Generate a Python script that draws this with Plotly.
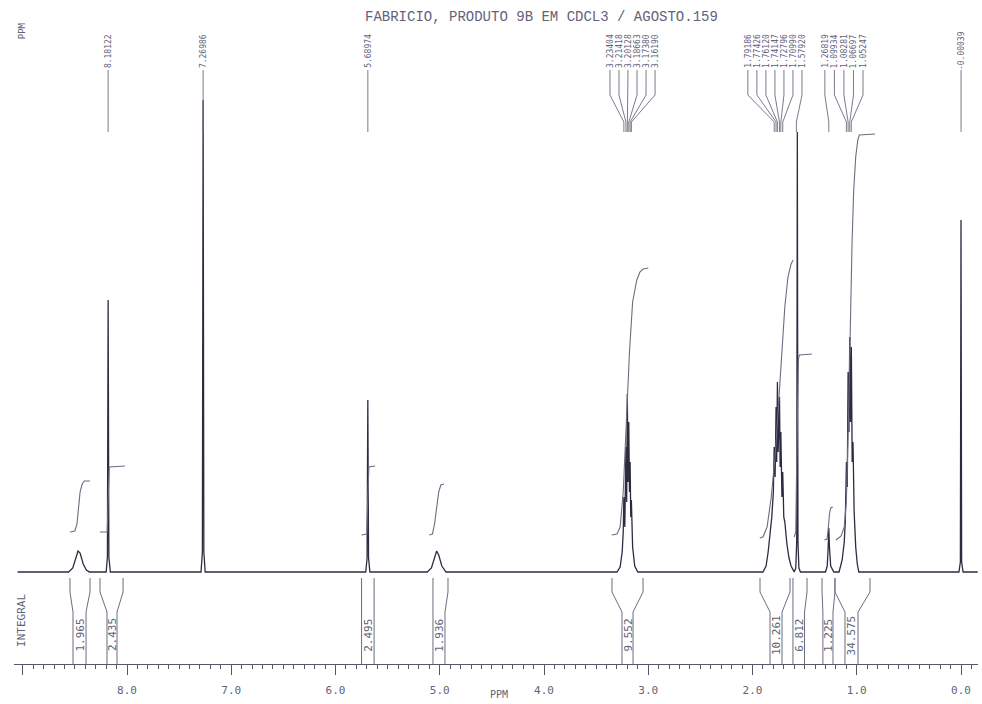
import plotly.graph_objects as go

TITLE = "FABRICIO, PRODUTO 9B EM CDCL3 / AGOSTO.159"

# ---------------- 1H NMR trace: vertices of each resonance (ppm, intensity) ----------------
nh_846_ppm = [8.56, 8.52, 8.49, 8.47, 8.45, 8.42, 8.39, 8.36]
nh_846_int = [0, 4, 14, 21, 19, 8, 2, 0]

s_818_ppm = [8.20, 8.188, 8.181, 8.174, 8.16]
s_818_int = [0, 15, 272, 15, 0]

chcl3_ppm = [7.29, 7.277, 7.270, 7.263, 7.25]
chcl3_int = [0, 20, 472, 20, 0]

s_569_ppm = [5.71, 5.697, 5.690, 5.683, 5.67]
s_569_int = [0, 14, 172, 14, 0]

br_503_ppm = [5.12, 5.08, 5.05, 5.03, 5.01, 4.98, 4.94]
br_503_int = [0, 4, 15, 21, 17, 6, 0]

m_320_ppm = [3.30, 3.27, 3.25, 3.240, 3.234, 3.225, 3.214, 3.207, 3.201, 3.194,
             3.187, 3.180, 3.174, 3.168, 3.162, 3.15, 3.13, 3.10]
m_320_int = [0, 5, 20, 40, 75, 45, 125, 70, 178, 90,
             150, 80, 110, 55, 72, 25, 6, 0]

m_175_ppm = [1.90, 1.87, 1.85, 1.83, 1.815, 1.80, 1.792, 1.783, 1.774, 1.768, 1.761, 1.754,
             1.741, 1.735, 1.728, 1.718, 1.710, 1.70, 1.69, 1.67, 1.65, 1.63, 1.615]
m_175_int = [0, 6, 20, 40, 55, 80, 125, 95, 165, 110, 190, 120,
             175, 105, 140, 75, 100, 55, 50, 28, 14, 6, 2]

water_ppm = [1.600, 1.585, 1.576, 1.570, 1.564, 1.555, 1.54]
water_int = [0, 4, 30, 440, 30, 4, 0]

s_127_ppm = [1.30, 1.283, 1.274, 1.268, 1.262, 1.25, 1.22]
s_127_int = [0, 6, 25, 44, 25, 6, 0]

m_105_ppm = [1.17, 1.14, 1.12, 1.11, 1.099, 1.091, 1.083, 1.075, 1.067, 1.060,
             1.052, 1.044, 1.036, 1.025, 1.01, 0.995, 0.98]
m_105_int = [0, 12, 30, 50, 110, 85, 200, 140, 235, 150,
             225, 110, 130, 60, 25, 8, 0]

tms_ppm = [0.02, 0.006, 0.0, -0.006, -0.02]
tms_int = [0, 10, 352, 10, 0]

spectrum_segments = [
    (nh_846_ppm, nh_846_int), (s_818_ppm, s_818_int), (chcl3_ppm, chcl3_int),
    (s_569_ppm, s_569_int), (br_503_ppm, br_503_int), (m_320_ppm, m_320_int),
    (m_175_ppm, m_175_int), (water_ppm, water_int), (s_127_ppm, s_127_int),
    (m_105_ppm, m_105_int), (tms_ppm, tms_int),
]
SPECTRUM_START, SPECTRUM_END = 9.05, -0.16

# ---------------- integral traces (ppm, running integral height) ----------------
integ_1_ppm = [8.547, 8.50, 8.48, 8.465, 8.45, 8.43, 8.41, 8.355]
integ_1_val = [40, 41, 48, 65, 80, 88, 91, 91]
integ_2_ppm = [8.26, 8.19, 8.183, 8.177, 8.17, 8.02]
integ_2_val = [40, 40, 65, 98, 105, 106]
integ_3_ppm = [5.75, 5.70, 5.693, 5.687, 5.68, 5.62]
integ_3_val = [37, 38, 65, 98, 105, 106]
integ_4_ppm = [5.10, 5.07, 5.05, 5.03, 5.01, 4.99, 4.96]
integ_4_val = [37, 38, 48, 65, 80, 87, 88]
integ_5_ppm = [3.35, 3.30, 3.27, 3.24, 3.21, 3.18, 3.15, 3.11, 3.08, 3.05, 3.00]
integ_5_val = [37, 38, 45, 80, 150, 220, 270, 292, 300, 303, 304]
integ_6_ppm = [1.93, 1.90, 1.86, 1.82, 1.78, 1.75, 1.72, 1.69, 1.66, 1.63, 1.61]
integ_6_val = [34, 35, 45, 75, 120, 170, 225, 265, 295, 308, 312]
integ_7_ppm = [1.60, 1.585, 1.576, 1.568, 1.560, 1.55, 1.43]
integ_7_val = [35, 40, 110, 190, 213, 217, 218]
integ_8_ppm = [1.31, 1.285, 1.272, 1.262, 1.25, 1.23]
integ_8_val = [32, 33, 45, 58, 64, 65]
integ_9_ppm = [1.20, 1.15, 1.12, 1.10, 1.08, 1.06, 1.045, 1.03, 1.01, 0.99, 0.975, 0.825]
integ_9_val = [32, 36, 45, 70, 150, 260, 330, 380, 415, 432, 437, 438]

integral_segments = [
    (integ_1_ppm, integ_1_val), (integ_2_ppm, integ_2_val), (integ_3_ppm, integ_3_val),
    (integ_4_ppm, integ_4_val), (integ_5_ppm, integ_5_val), (integ_6_ppm, integ_6_val),
    (integ_7_ppm, integ_7_val), (integ_8_ppm, integ_8_val), (integ_9_ppm, integ_9_val),
]

# integration limits (outer pair at the trace, inner pair at the value box) and values
integ_outer = [(8.547, 8.355), (8.259, 8.038), (5.75, 5.63), (5.065, 4.921), (3.348, 3.050),
               (1.928, 1.640), (1.612, 1.477), (1.333, 1.209), (1.209, 0.873)]
integ_inner = [(8.518, 8.393), (8.192, 8.096), (5.75, 5.63), (5.065, 4.950), (3.252, 3.146),
               (1.832, 1.717), (1.612, 1.501), (1.325, 1.228), (1.113, 0.988)]
integ_values = [1.965, 2.435, 2.495, 1.936, 9.552, 10.261, 6.812, 1.225, 34.575]

# ---------------- peak picking ----------------
single_peaks = [8.18122, 7.26986, 5.68974, -0.00039]
group_320 = [3.23404, 3.21418, 3.20128, 3.18663, 3.17380, 3.16190]
group_175 = [1.79186, 1.77426, 1.76120, 1.74147, 1.72796, 1.70990, 1.57920]
group_105 = [1.26819, 1.09934, 1.08281, 1.06697, 1.05247]

# axis ticks
major_ticks = [0, 1, 2, 3, 4, 5, 6, 7, 8, 9]
major_labels = ["0.0", "1.0", "2.0", "3.0", "4.0", "5.0", "6.0", "7.0", "8.0", ""]

# ---------------- styling ----------------
INK = "#2c2c40"
GREY = "#6c6c80"
TEXT = "#62627a"
MONO = "DejaVu Sans Mono, Liberation Mono, monospace"

LABEL_BOTTOM = 502   # foot of the peak-label column
FAN_START = 477
FAN_END = 450
LEADER_END = 440
LABEL_MID = 521

fig = go.Figure()

# spectrum
sx, sy = [SPECTRUM_START], [0]
for p, v in spectrum_segments:
    sx += p
    sy += v
sx.append(SPECTRUM_END)
sy.append(0)
fig.add_trace(go.Scatter(x=sx, y=sy, mode="lines",
                         line=dict(color=INK, width=1.3), hoverinfo="skip"))

# integral curves
ix, iy = [], []
for p, v in integral_segments:
    ix += p + [None]
    iy += v + [None]
fig.add_trace(go.Scatter(x=ix, y=iy, mode="lines",
                         line=dict(color=GREY, width=1.1), hoverinfo="skip"))

# integration brackets below the baseline
bx, by = [], []
for (ol, orr), (il, ir) in zip(integ_outer, integ_inner):
    bx += [ol, ol, il, il, None, orr, orr, ir, ir, None]
    by += [-6, -20, -40, -92, None, -6, -20, -40, -92, None]
fig.add_trace(go.Scatter(x=bx, y=by, mode="lines",
                         line=dict(color=GREY, width=1.0), hoverinfo="skip"))

for (il, ir), val in zip(integ_inner, integ_values):
    fig.add_annotation(x=(il + ir) / 2, y=-63, text=f"{val:.3f}", textangle=-90,
                       showarrow=False, xanchor="center", yanchor="middle",
                       font=dict(family=MONO, size=11, color=TEXT))

# peak labels with leaders
lx, ly = [], []


def add_label(col, peak, text):
    fig.add_annotation(x=col, y=LABEL_MID, text=text, textangle=-90, showarrow=False,
                       xanchor="center", yanchor="middle",
                       font=dict(family=MONO, size=8, color=TEXT))
    lx.extend([col, col, peak, peak, None])
    ly.extend([LABEL_BOTTOM, FAN_START, FAN_END, LEADER_END, None])


for v in single_peaks:
    add_label(v, v, f"{v:.5f}")

for group, centre, step in [(group_320, 3.151, 0.0865),
                            (group_175, 1.785, 0.0865),
                            (group_105, 1.123, 0.0915)]:
    n = len(group)
    for i, v in enumerate(group):
        add_label(centre + ((n - 1) / 2 - i) * step, v, f"{v:.5f}")

fig.add_trace(go.Scatter(x=lx, y=ly, mode="lines",
                         line=dict(color=GREY, width=0.9), hoverinfo="skip"))

# texts
fig.add_annotation(x=4.02, y=555, text=TITLE, showarrow=False, xanchor="center",
                   yanchor="middle", font=dict(family="Liberation Mono, monospace",
                                               size=14, color=TEXT))
fig.add_annotation(x=9.005, y=541, text="PPM", textangle=-90, showarrow=False,
                   xanchor="center", yanchor="middle",
                   font=dict(family=MONO, size=9, color=TEXT))
fig.add_annotation(x=9.017, y=-48, text="INTEGRAL", textangle=-90, showarrow=False,
                   xanchor="center", yanchor="middle",
                   font=dict(family=MONO, size=11, color=TEXT))
fig.add_annotation(x=4.43, xref="x", y=-0.046, yref="paper", text="PPM",
                   showarrow=False, xanchor="center", yanchor="middle",
                   font=dict(family=MONO, size=10, color=TEXT))

fig.update_layout(
    width=982, height=704,
    margin=dict(l=14, r=4, t=0, b=40),
    paper_bgcolor="white", plot_bgcolor="white",
    showlegend=False, hovermode=False,
)
fig.update_xaxes(
    range=[9.084, -0.163], showgrid=False, zeroline=False,
    showline=True, linecolor="#56566a", linewidth=1.2,
    ticks="outside", ticklen=10, tickwidth=1.2, tickcolor="#56566a",
    tickmode="array", tickvals=major_ticks, ticktext=major_labels,
    tickfont=dict(family=MONO, size=11, color=TEXT),
    ticklabelstandoff=6,
    minor=dict(tickmode="linear", tick0=0, dtick=0.1, ticks="outside",
               ticklen=4, tickwidth=1, tickcolor="#56566a"),
)
fig.update_yaxes(range=[-92, 572], visible=False)

fig.write_html("out.html")
